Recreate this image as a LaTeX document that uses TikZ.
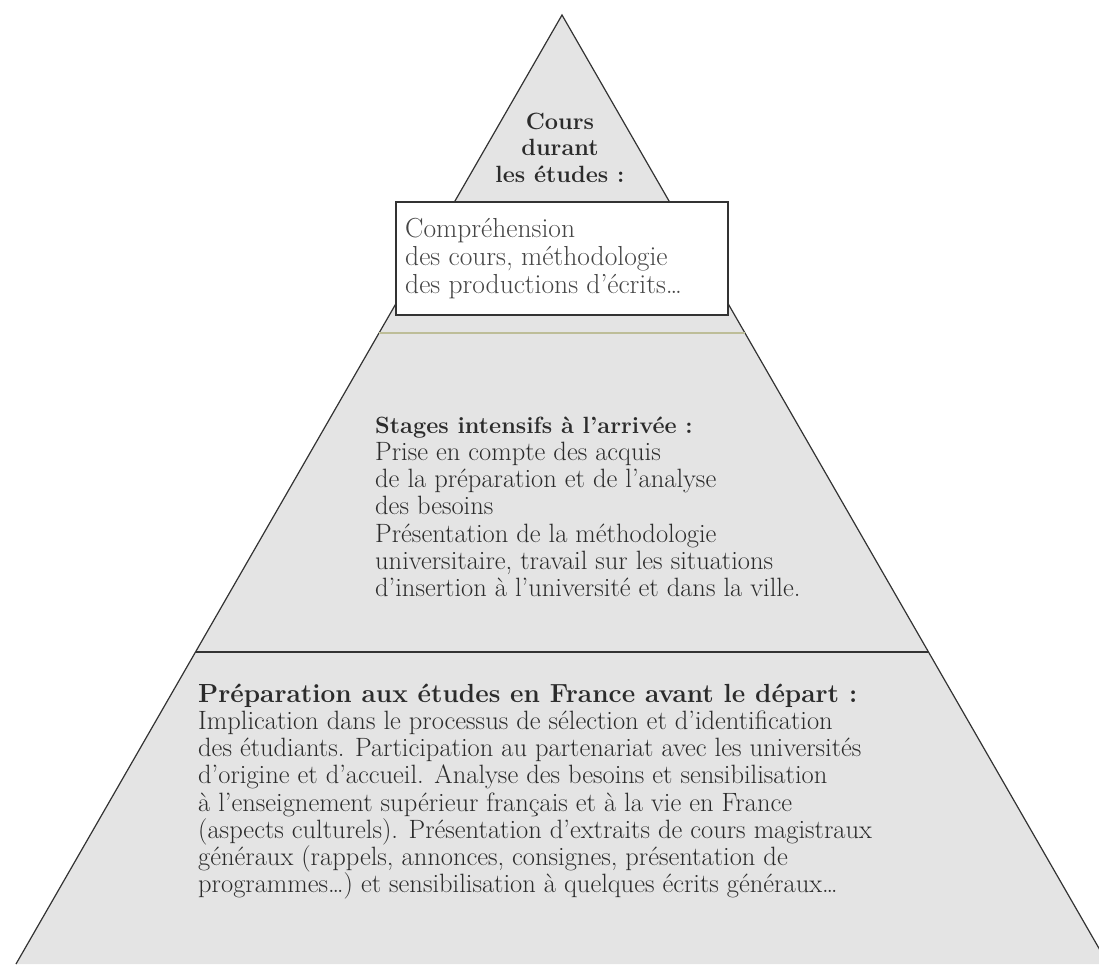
\documentclass[tikz,border=0pt]{standalone}
\definecolor{pyrfill}{HTML}{E4E4E4}
\definecolor{edgecol}{HTML}{333333}
\definecolor{txtcol}{HTML}{2B2B2B}
\definecolor{boxtxt}{HTML}{454545}
\definecolor{olive}{HTML}{BDBD98}
\newcommand\tstrut{\rule{0pt}{22pt}}
\begin{document}
\begin{tikzpicture}[x=1pt,y=-1pt,
  edge/.style={draw=edgecol,line width=1.2pt},
  sep/.style={draw=edgecol,line width=1.8pt},
  faint/.style={draw=olive,line width=1.6pt},
  boxstyle/.style={draw=edgecol,fill=white,line width=2.2pt},
  block/.style={anchor=north west,inner sep=0pt,align=left,text=txtcol},
  bodyfont/.style={font=\fontsize{26.5}{27.2}\selectfont},
  head/.style={font=\bfseries\fontsize{23.5}{26.5}\selectfont}]
\useasboundingbox (0,0) rectangle (1099,964);
\fill[white] (0,0) rectangle (1099,964);
\begin{scope}
  \clip (0,0) rectangle (1099,964);
  \coordinate (apex) at (562,15);
  \coordinate (bl) at (16,964);
  \coordinate (br) at (1108,964);
  \fill[pyrfill] (apex) -- (bl) -- (br) -- cycle;
  \draw[edge] (bl) -- (apex) -- (br);
\end{scope}
% separators
\coordinate (s1l) at (379.1,333);
\coordinate (s1r) at (744.9,333);
\coordinate (s2l) at (195.7,652);
\coordinate (s2r) at (928.3,652);
\draw[faint] (s1l) -- (s1r);
\draw[sep] (s2l) -- (s2r);
% box
\coordinate (boxtl) at (396,202);
\coordinate (boxbr) at (728,315);
\draw[boxstyle] (boxtl) rectangle (boxbr);
% texts
\node[block,head,align=center,anchor=north] (top) at (560,107)
  {\tstrut Cours\\durant\\les études :};
\node[block,text=boxtxt,font=\fontsize{27.5}{28}\selectfont] (boxtext) at (405,215)
  {\tstrut Compréhension\\des cours, méthodologie\\des productions d'écrits…};
\node[block,bodyfont] (mid) at (375,411)
  {\tstrut{\bfseries\fontsize{23.5}{27.3}\selectfont Stages intensifs à l'arrivée :}\\
   Prise en compte des acquis\\
   de la préparation et de l'analyse\\
   des besoins\\
   Présentation de la méthodologie\\
   universitaire, travail sur les situations\\
   d'insertion à l'université et dans la ville.};
\node[block,bodyfont] (bottom) at (198,680)
  {\tstrut{\bfseries\fontsize{26.2}{27.1}\selectfont Préparation aux études en France avant le départ :}\\
   Implication dans le processus de sélection et d'identification\\
   des étudiants. Participation au partenariat avec les universités\\
   d'origine et d'accueil. Analyse des besoins et sensibilisation\\
   à l'enseignement supérieur français et à la vie en France\\
   (aspects culturels). Présentation d'extraits de cours magistraux\\
   généraux (rappels, annonces, consignes, présentation de\\
   programmes…) et sensibilisation à quelques écrits généraux…};
\end{tikzpicture}
\end{document}
